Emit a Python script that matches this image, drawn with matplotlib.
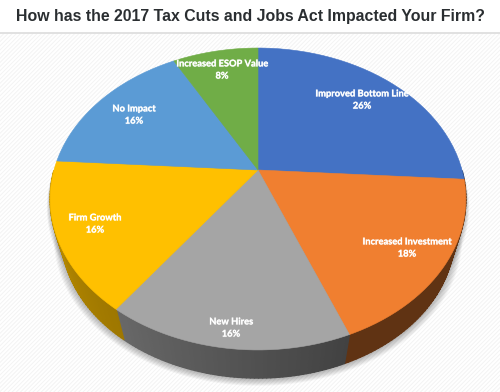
import numpy as np
import matplotlib
matplotlib.use('Agg')
import matplotlib.pyplot as plt
import matplotlib.patheffects as pe
from matplotlib.collections import PolyCollection
from matplotlib.patches import Rectangle, Polygon
from matplotlib.path import Path
from matplotlib.transforms import Transform, Affine2D

# Chart data
categories = ['Improved Bottom Line', 'Increased Investment', 'New Hires',
              'Firm Growth', 'No Impact', 'Increased ESOP Value']
shares = [26, 18, 16, 16, 16, 8]

# Styles
title = 'How has the 2017 Tax Cuts and Jobs Act Impacted Your Firm?'
colors = ['#4472c4', '#f07f30', '#a5a5a5', '#ffc000', '#5b9bd5', '#70ad47']
wall_shades = [(0.5, 0.4), (0.4, 0.4), (0.4, 0.63), (0.62, 0.76), (0.6, 0.6), (0.6, 0.6)]
label_pos = [(362, 100), (407, 248), (231, 328), (95, 224), (134, 115), (222, 70)]

# Where the disc sits on the picture, in pixels
cx, cy = 258, 170
k = 0.192       # perspective strength
a, b = 204, 145.4
wall_drop = 38
wall_scale = 0.945


def project(x, y):
    w = 1 + k * y
    return cx + a * x / w, cy - b * y / w


class TiltTransform(Transform):
    """Tilts the flat unit pie into the perspective view."""
    input_dims = 2
    output_dims = 2

    def transform_non_affine(self, values):
        values = np.asarray(values, dtype=float)
        sx, sy = project(values[:, 0], values[:, 1])
        return np.column_stack([sx, sy])

    def transform_path_non_affine(self, path):
        # curves have to be flattened first, the control points do not survive this
        poly = path.to_polygons(Affine2D().scale(400))[0] / 400
        return Path(self.transform_non_affine(poly))


fig = plt.figure(figsize=(5, 3.92), dpi=100)
ax = fig.add_axes([0, 0, 1, 1])

wedges, _ = ax.pie(shares, colors=colors, startangle=90, counterclock=False,
                   wedgeprops={'linewidth': 0.4, 'zorder': 5})
tilt = TiltTransform() + ax.transData
for wedge, color in zip(wedges, colors):
    wedge.set_transform(tilt)
    wedge.set_edgecolor(color)

ax.set_xlim(0, 500)
ax.set_ylim(392, 0)
ax.set_aspect('auto')
ax.axis('off')

# Background
plt.rcParams['hatch.linewidth'] = 0.7
ax.add_patch(Rectangle((0, 0), 500, 392, facecolor='white', edgecolor='none', zorder=0))
ax.add_patch(Rectangle((0, 33), 500, 359, facecolor='white', edgecolor='#f3f3f3',
                       hatch='////////', linewidth=0, zorder=0.5))
ax.plot([0, 500], [32.5, 32.5], color='#dcdcdc', linewidth=1.2, zorder=1)

# Soft shadow under the pie, only the lower edge shows
t = np.linspace(0, 2 * np.pi, 240)
top_x, top_y = project(np.cos(t), np.sin(t))
for i in range(8, 0, -1):
    grow = 1 + i * 0.005
    low_x = cx + (top_x - cx) * wall_scale * grow
    low_y = cy + wall_drop + 1 + (top_y - cy) * wall_scale * grow
    ax.add_patch(Polygon(np.column_stack([low_x, low_y]), facecolor='black',
                         edgecolor='none', alpha=0.035, zorder=2))
    up_x = cx + (top_x - cx) * (1 + i * 0.002)
    up_y = cy + 2 + i * 0.9 + (top_y - cy) * 0.99
    ax.add_patch(Polygon(np.column_stack([up_x, up_y]), facecolor='black',
                         edgecolor='none', alpha=0.03, zorder=2))

# Side wall, one thin quad at a time so the shade can run along it
edges = 360 * np.cumsum([0] + shares) / sum(shares)
for i, color in enumerate(colors):
    base = np.array(matplotlib.colors.to_rgb(color))
    ang = np.linspace(edges[i], edges[i + 1], 60)
    rad = np.radians(90 - ang)
    ux, uy = project(np.cos(rad), np.sin(rad))
    lx = cx + (ux - cx) * wall_scale
    ly = cy + wall_drop + (uy - cy) * wall_scale
    quads = [[(ux[j], uy[j]), (ux[j + 1], uy[j + 1]), (lx[j + 1], ly[j + 1]), (lx[j], ly[j])]
             for j in range(len(ang) - 1)]
    shade = np.linspace(wall_shades[i][0], wall_shades[i][1], len(quads))
    # the back half is hidden behind the top face, and would only bleed round the rim
    front = [j for j in range(len(quads)) if np.sin(rad[j]) < 0 and np.sin(rad[j + 1]) < 0]
    if not front:
        continue
    face = [tuple(base * shade[j]) for j in front]
    ax.add_collection(PolyCollection([quads[j] for j in front], facecolors=face, edgecolors=face,
                                     linewidths=1.0, zorder=3))

# Labels
for name, share, pos in zip(categories, shares, label_pos):
    txt = ax.text(pos[0], pos[1], f'{name}\n{share}%', color='white', ha='center', va='center',
                  fontsize=6.7, fontweight='bold', family='Lato', linespacing=1.45, zorder=6)
    txt.set_path_effects([pe.withStroke(linewidth=0.8, foreground=(1, 1, 1, 0.2))])

ax.text(250, 16, title, color='#2a2e31', ha='center', va='center', fontsize=11.4,
        fontweight='bold', family='Liberation Sans', zorder=6)

fig.savefig('out.png', dpi=100)
